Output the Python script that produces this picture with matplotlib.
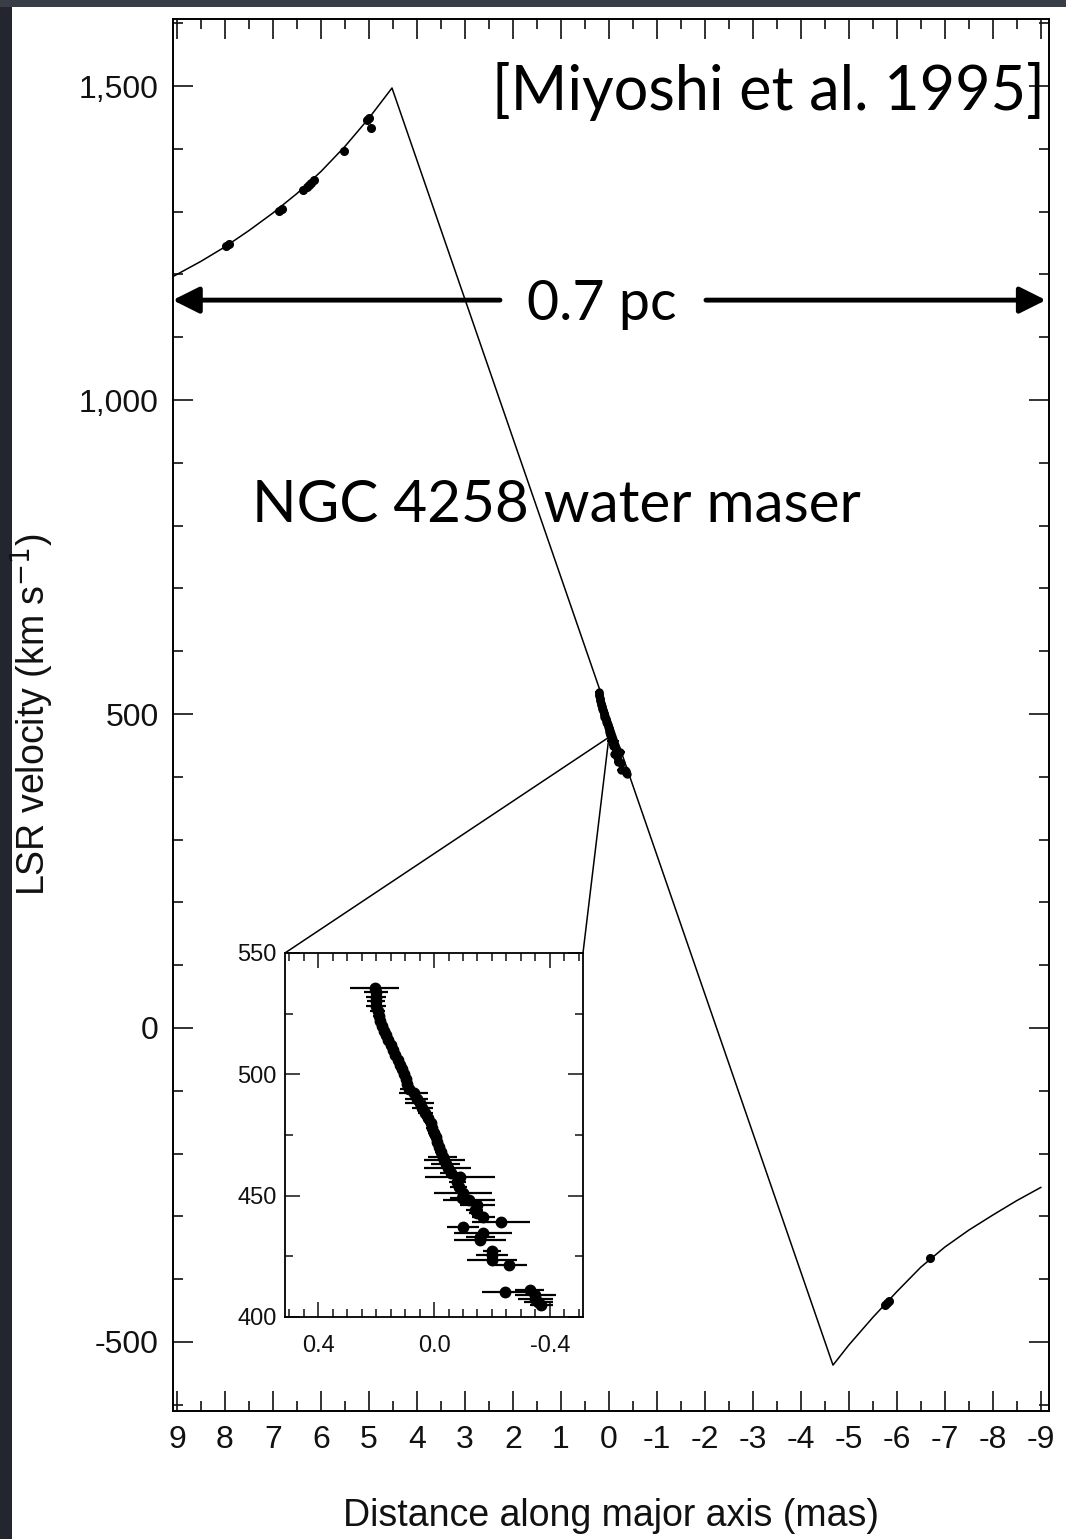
import matplotlib as mpl
mpl.use('Agg')
import matplotlib.pyplot as plt
from matplotlib.patches import Rectangle, ConnectionPatch
from matplotlib.ticker import MultipleLocator

plt.rcParams['font.family'] = ['Liberation Sans', 'DejaVu Sans']
plt.rcParams['axes.unicode_minus'] = False

# Keplerian rotation curve along the disk major axis (mas, km/s)
curve_x = [9.1, 8.5, 8.0, 7.5, 7.0, 6.5, 6.0, 5.5, 5.0, 4.52,
           -4.67, -5.0, -5.5, -6.0, -6.5, -7.0, -7.5, -8.0, -8.5, -9.0]
curve_v = [1196, 1221, 1244, 1270, 1298, 1329, 1364, 1404, 1449, 1497,
           -537, -505, -461, -420, -381, -349, -322, -298, -275, -254]

# high-velocity masers
red_x = [7.98, 7.92, 6.88, 6.82, 6.38, 6.3, 6.25, 6.2, 6.14, 5.52, 5.05, 5.0, 4.96]
red_v = [1245, 1248, 1301, 1305, 1335, 1340, 1343, 1346, 1350, 1397, 1446, 1450, 1434]
blue_x = [-5.76, -5.8, -5.84, -6.69]
blue_v = [-441, -438, -435, -366]

# systemic masers: velocity (km/s), offset (mas), half-width of bar (mas)
sys_v = [535.5, 534, 532, 530, 528, 526, 524, 522, 520, 518, 516, 514, 512,
         510, 508, 506, 504, 502, 500, 498, 496, 494, 492.3, 490, 488, 486,
         484, 482, 480, 478, 476, 474, 472, 470, 468, 466, 464.7, 463, 461.4,
         459.5, 457.7, 455.5, 453.6, 451, 449, 448, 446, 444, 443, 441, 439,
         437, 434.6, 433, 431.7, 427, 425.5, 423.5, 421.4, 411, 410.3, 409,
         407.5, 406, 405]
sys_x = [0.205, 0.2, 0.2, 0.2, 0.2, 0.195, 0.19, 0.185, 0.178, 0.172, 0.166,
         0.158, 0.15, 0.142, 0.134, 0.126, 0.118, 0.11, 0.104, 0.098, 0.092,
         0.088, 0.07, 0.06, 0.05, 0.04, 0.03, 0.022, 0.012, 0.006, 0.0, -0.006,
         -0.012, -0.018, -0.024, -0.03, -0.036, -0.04, -0.047, -0.06, -0.09,
         -0.08, -0.085, -0.1, -0.095, -0.12, -0.15, -0.14, -0.15, -0.17, -0.23,
         -0.1, -0.17, -0.16, -0.16, -0.2, -0.2, -0.2, -0.26, -0.33, -0.245,
         -0.35, -0.35, -0.36, -0.37]
sys_err = [0.085, 0.04, 0.035, 0.03, 0.035, 0.025, 0.022, 0.02, 0.018, 0.017,
           0.015, 0.015, 0.015, 0.015, 0.015, 0.015, 0.015, 0.015, 0.015,
           0.016, 0.018, 0.03, 0.05, 0.04, 0.05, 0.035, 0.025, 0.02, 0.02, 0.02,
           0.02, 0.02, 0.018, 0.018, 0.02, 0.05, 0.07, 0.05, 0.08, 0.04, 0.12,
           0.03, 0.03, 0.1, 0.04, 0.09, 0.06, 0.03, 0.03, 0.04, 0.1, 0.055, 0.1,
           0.05, 0.09, 0.03, 0.055, 0.085, 0.06, 0.05, 0.078, 0.07, 0.06, 0.05,
           0.04]
v_sys = 463

x_ticks = list(range(9, -10, -1))
x_ticklabels = [str(t) for t in x_ticks]
y_ticks = [-500, 0, 500, 1000, 1500]
y_ticklabels = ['-500', '0', '500', '1,000', '1,500']
inset_xticks = [0.4, 0.0, -0.4]
inset_xticklabels = ['0.4', '0.0', '-0.4']
inset_yticks = [400, 450, 500, 550]

fig = plt.figure(figsize=(10.66, 15.39), dpi=100, facecolor='#23262e')
fig.add_artist(Rectangle((0, 1 - 7 / 1539), 1, 7 / 1539, transform=fig.transFigure,
                         facecolor='#393d48', edgecolor='none', zorder=-2))
fig.add_artist(Rectangle((12 / 1066, 0), 1, 1 - 7 / 1539, transform=fig.transFigure,
                         facecolor='white', edgecolor='none', zorder=-1))

# main panel
ax = fig.add_axes([0.162, 0.0832, 0.822, 0.9045])
ax.plot(curve_x, curve_v, color='black', lw=1.1)
ax.plot(red_x, red_v, 'o', ms=5.5, color='black')
ax.plot(blue_x, blue_v, 'o', ms=5.5, color='black')
ax.errorbar(sys_x, sys_v, xerr=sys_err, fmt='o', ms=5, color='black',
            elinewidth=1.4, capsize=0)

ax.set_xlim(9.09, -9.17)
ax.set_ylim(-610, 1607)
ax.set_xticks(x_ticks)
ax.set_xticklabels(x_ticklabels)
ax.set_yticks(y_ticks)
ax.set_yticklabels(y_ticklabels)
ax.xaxis.set_minor_locator(MultipleLocator(0.5))
ax.yaxis.set_minor_locator(MultipleLocator(100))
ax.tick_params(which='both', direction='in', top=True, right=True, width=1.2,
               labelsize=23, colors='#111111')
ax.tick_params(which='major', length=14.5)
ax.tick_params(which='minor', length=7.5)
ax.tick_params(axis='x', pad=10)
ax.tick_params(axis='y', pad=10)
for s in ax.spines.values():
    s.set_linewidth(1.4)

ax.set_xlabel('Distance along major axis (mas)', fontsize=27, color='#111111')
ax.xaxis.set_label_coords(0.5, -0.0625)
ax.set_ylabel(r'LSR velocity (km s$^{-1}$)', fontsize=27, color='#111111')
ax.yaxis.set_label_coords(-0.133, 0.5)

# 0.7 pc scale arrows
arrow_kw = dict(arrowstyle='-|>,head_length=0.8,head_width=0.4', lw=3.5,
                color='black', shrinkA=0, shrinkB=0, mutation_scale=20)
ax.annotate('', xy=(0.0, 0.798), xytext=(0.3735, 0.798), xycoords='axes fraction',
            arrowprops=arrow_kw)
ax.annotate('', xy=(0.9966, 0.798), xytext=(0.6086, 0.798), xycoords='axes fraction',
            arrowprops=arrow_kw)
ax.text(0.490, 0.7838, '0.7 pc', transform=ax.transAxes, family='Lato',
        fontsize=40, ha='center', va='baseline')
ax.text(0.0905, 0.6387, 'NGC 4258 water maser', transform=ax.transAxes,
        family='Lato', fontsize=42, ha='left', va='baseline')
ax.text(0.9955, 0.9346, '[Miyoshi et al. 1995]', transform=ax.transAxes,
        family='Lato', fontsize=44, ha='right', va='baseline')

# inset: systemic masers
ins = fig.add_axes([0.2674, 0.1443, 0.2795, 0.2365])
ins.errorbar(sys_x, sys_v, xerr=sys_err, fmt='o', ms=7.5, color='black',
             elinewidth=1.6, capsize=0)
ins.set_xlim(0.514, -0.514)
ins.set_ylim(400, 550)
ins.set_xticks(inset_xticks)
ins.set_xticklabels(inset_xticklabels)
ins.set_yticks(inset_yticks)
ins.xaxis.set_minor_locator(MultipleLocator(0.05))
ins.yaxis.set_minor_locator(MultipleLocator(25))
ins.tick_params(which='both', direction='in', top=True, right=True, width=1.1,
                labelsize=17, colors='#111111')
ins.tick_params(which='major', length=11)
ins.tick_params(which='minor', length=5.5)
ins.tick_params(axis='x', pad=13)
ins.tick_params(axis='y', pad=6)
for s in ins.spines.values():
    s.set_linewidth(1.3)

for corner in [(0, 1), (1, 1)]:
    con = ConnectionPatch(xyA=(0.0, v_sys), coordsA=ax.transData,
                          xyB=corner, coordsB=ins.transAxes,
                          color='black', lw=1.1)
    fig.add_artist(con)

fig.savefig('out.png', dpi=100, facecolor=fig.get_facecolor())
